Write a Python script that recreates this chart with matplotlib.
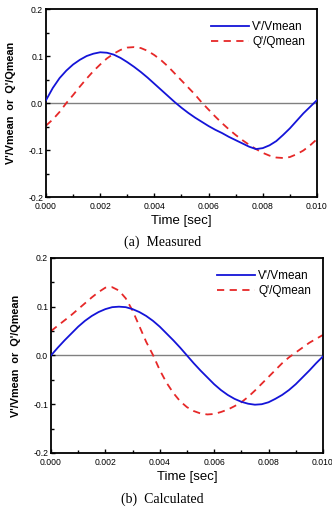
import matplotlib
matplotlib.use('Agg')
import matplotlib.pyplot as plt
from matplotlib.ticker import MultipleLocator, FormatStrFormatter

plt.rcParams['font.family'] = ['Liberation Sans', 'DejaVu Sans']

# czas [s], krok 0.00025
czas = [0.0, 0.00025, 0.0005, 0.00075, 0.001, 0.00125, 0.0015, 0.00175, 0.002, 0.00225,
        0.0025, 0.00275, 0.003, 0.00325, 0.0035, 0.00375, 0.004, 0.00425, 0.0045, 0.00475,
        0.005, 0.00525, 0.0055, 0.00575, 0.006, 0.00625, 0.0065, 0.00675, 0.007, 0.00725,
        0.0075, 0.00775, 0.008, 0.00825, 0.0085, 0.00875, 0.009, 0.00925, 0.0095, 0.00975, 0.010]

# (a) pomiar
v_pomiar = [0.006, 0.032, 0.053, 0.069, 0.082, 0.092, 0.100, 0.105, 0.108, 0.107,
            0.103, 0.096, 0.087, 0.077, 0.066, 0.054, 0.041, 0.028, 0.015, 0.002,
            -0.010, -0.021, -0.031, -0.040, -0.049, -0.057, -0.064, -0.072, -0.079, -0.086,
            -0.093, -0.098, -0.096, -0.090, -0.081, -0.068, -0.054, -0.038, -0.022, -0.008, 0.006]
q_pomiar = [-0.048, -0.035, -0.019, 0.000, 0.017, 0.035, 0.052, 0.068, 0.082, 0.095,
            0.105, 0.113, 0.118, 0.119, 0.117, 0.111, 0.102, 0.091, 0.078, 0.063,
            0.048, 0.033, 0.018, 0.001, -0.014, -0.029, -0.043, -0.056, -0.068, -0.079,
            -0.089, -0.098, -0.106, -0.112, -0.116, -0.117, -0.115, -0.109, -0.101, -0.090, -0.077]

# (b) obliczenia
v_obliczenia = [0.0, 0.016, 0.031, 0.045, 0.059, 0.071, 0.081, 0.089, 0.095, 0.099,
                0.100, 0.099, 0.095, 0.089, 0.081, 0.071, 0.059, 0.045, 0.031, 0.016,
                0.0, -0.016, -0.031, -0.045, -0.059, -0.071, -0.081, -0.089, -0.095, -0.099,
                -0.101, -0.100, -0.096, -0.089, -0.081, -0.071, -0.059, -0.045, -0.031, -0.016, -0.002]
q_obliczenia = [0.050, 0.061, 0.072, 0.083, 0.095, 0.107, 0.119, 0.130, 0.139, 0.140,
                0.133, 0.117, 0.092, 0.060, 0.028, 0.001, -0.030, -0.056, -0.077, -0.094,
                -0.106, -0.114, -0.119, -0.121, -0.120, -0.116, -0.111, -0.104, -0.096, -0.085,
                -0.072, -0.058, -0.044, -0.030, -0.016, -0.004, 0.006, 0.016, 0.026, 0.034, 0.042]

fig = plt.figure(figsize=(3.32, 5.08), dpi=100)


def rysuj_panel(pozycja, v, q, podpis, y_podpis):
    ax = fig.add_axes(pozycja)
    ax.axhline(0, color='#808080', lw=1.0, zorder=1)
    ax.plot(czas, v, color='#1414d8', lw=1.3, label="V'/Vmean", zorder=3)
    ax.plot(czas, q, color='#e62828', lw=1.3, ls=(0, (4, 3)), label="Q'/Qmean", zorder=2)
    ax.set_xlim(0, 0.010)
    ax.set_ylim(-0.2, 0.2)
    ax.xaxis.set_major_locator(MultipleLocator(0.002))
    ax.xaxis.set_minor_locator(MultipleLocator(0.001))
    ax.yaxis.set_major_locator(MultipleLocator(0.1))
    ax.yaxis.set_minor_locator(MultipleLocator(0.05))
    ax.xaxis.set_major_formatter(FormatStrFormatter('%.3f'))
    ax.yaxis.set_major_formatter(FormatStrFormatter('%.1f'))
    ax.tick_params(which='both', direction='in', labelsize=6.2, width=1.0)
    ax.tick_params(axis='x', pad=3.5)
    ax.tick_params(axis='y', pad=2)
    ax.tick_params(which='major', length=3)
    ax.tick_params(which='minor', length=2)
    for sp in ax.spines.values():
        sp.set_linewidth(1.3)
    ax.set_xlabel('Time [sec]', fontsize=9.5, labelpad=3)
    ax.set_ylabel("V'/Vmean  or  Q'/Qmean", fontsize=7.8, fontweight='bold')
    ax.yaxis.set_label_coords(-0.112, 0.5)
    ax.legend(loc='upper right', frameon=False, fontsize=8.5, handlelength=3.2,
              handletextpad=0.3, labelspacing=0.25, borderaxespad=0.6)
    fig.text(0.49, y_podpis, podpis, ha='center', va='center',
             family='Liberation Serif', fontsize=10)
    return ax


rysuj_panel([0.1386, 0.6122, 0.816, 0.370], v_pomiar, q_pomiar, '(a)  Measured', 1 - 242 / 508)
rysuj_panel([0.1536, 0.1083, 0.819, 0.384], v_obliczenia, q_obliczenia, '(b)  Calculated', 1 - 499 / 508)

fig.savefig('out.png', dpi=100)
